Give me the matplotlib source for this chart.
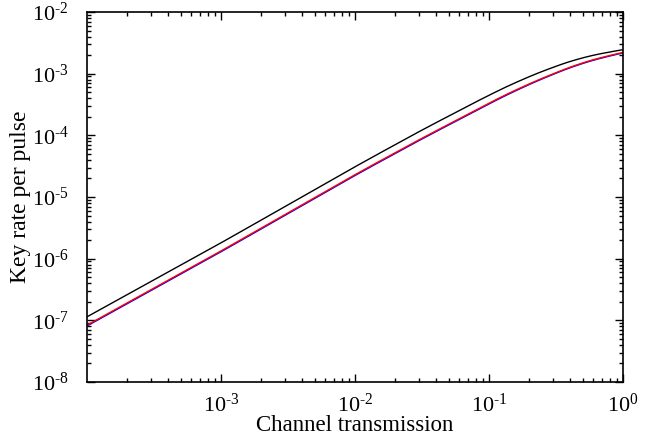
import numpy as np
import matplotlib
matplotlib.use("Agg")
import matplotlib.pyplot as plt
from matplotlib.ticker import LogLocator, FixedLocator, NullFormatter, FuncFormatter

# values (log-log)
transmission = [1e-4, 1e-3, 1e-2, 0.0311, 0.05, 0.1, 0.17, 0.3, 0.48, 0.7, 1.0]
rate_black = [1.14e-7, 1.8e-6, 3.1e-5, 1.2e-4, 2.05e-4, 4.5e-4, 7.8e-4, 1.28e-3, 1.8e-3, 2.15e-3, 2.45e-3]
rate_blue = [8.1e-8, 1.29e-6, 2.24e-5, 8.6e-5, 1.47e-4, 3.25e-4, 5.75e-4, 9.8e-4, 1.45e-3, 1.82e-3, 2.17e-3]
rate_red = [8.35e-8, 1.33e-6, 2.31e-5, 8.85e-5, 1.51e-4, 3.35e-4, 5.9e-4, 1.0e-3, 1.48e-3, 1.86e-3, 2.21e-3]

x_ticks = [1e-3, 1e-2, 1e-1, 1e0]
y_ticks = [1e-8, 1e-7, 1e-6, 1e-5, 1e-4, 1e-3, 1e-2]

plt.rcParams['font.family'] = ['Liberation Serif', 'DejaVu Serif']
plt.rcParams['mathtext.fontset'] = 'custom'
plt.rcParams['mathtext.rm'] = 'Liberation Serif'
plt.rcParams['mathtext.it'] = 'Liberation Serif:italic'

fig = plt.figure(figsize=(6.71, 4.36), dpi=100)
ax = fig.add_axes([87 / 671, 1 - 382 / 436, 536 / 671, 370 / 436])


# moving average in log space so the bend is not kinked
def smooth(xs, ys, n=400):
    lx = np.log10(xs)
    ly = np.log10(ys)
    fine = np.linspace(lx[0], lx[-1], n)
    line = np.interp(fine, lx, ly)
    k = 15
    # reflect ends so the average keeps the end values
    head = 2 * line[0] - line[k:0:-1]
    tail = 2 * line[-1] - line[-2:-k - 2:-1]
    pad = np.concatenate([head, line, tail])
    kern = np.ones(2 * k + 1) / (2 * k + 1)
    sm = np.convolve(pad, kern, mode='valid')
    return 10 ** fine, 10 ** sm


for ys, col in [(rate_black, 'black'), (rate_blue, 'blue'), (rate_red, 'red')]:
    xx, yy = smooth(transmission, ys)
    ax.plot(xx, yy, color=col, lw=1.0)

ax.set_xscale('log')
ax.set_yscale('log')
ax.set_xlim(1e-4, 1)
ax.set_ylim(1e-8, 1e-2)


def pow_label(v, p):
    e = int(round(np.log10(v)))
    if e < 0:
        return r'$\mathregular{10^{\text{-}%d}}$' % (-e)
    return r'$\mathregular{10^{%d}}$' % e


fmt = FuncFormatter(pow_label)
ax.xaxis.set_major_locator(FixedLocator(x_ticks))
ax.yaxis.set_major_locator(FixedLocator(y_ticks))
ax.xaxis.set_major_formatter(fmt)
ax.yaxis.set_major_formatter(fmt)
ax.xaxis.set_minor_locator(LogLocator(base=10, subs=np.arange(2, 10), numticks=20))
ax.yaxis.set_minor_locator(LogLocator(base=10, subs=np.arange(2, 10), numticks=20))
ax.xaxis.set_minor_formatter(NullFormatter())
ax.yaxis.set_minor_formatter(NullFormatter())

ax.tick_params(which='both', direction='in', top=True, right=True, labelsize=16, width=1.0)
ax.tick_params(which='major', length=6)
ax.tick_params(which='minor', length=3)
ax.tick_params(axis='x', pad=8)
ax.tick_params(axis='y', pad=13)
for s in ax.spines.values():
    s.set_linewidth(1.2)

ax.set_xlabel('Channel transmission', fontsize=16.5)
ax.set_ylabel('Key rate per pulse', fontsize=17)
ax.xaxis.set_label_coords(0.5, -0.088)
ax.yaxis.set_label_coords(-0.104, 0.5)

fig.savefig('out.png', dpi=100)
